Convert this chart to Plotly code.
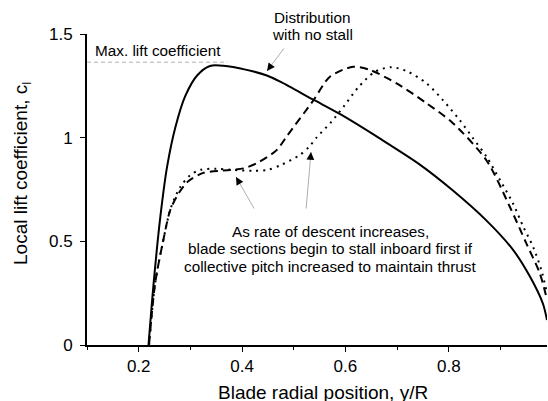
import plotly.graph_objects as go

# Data
no_stall_x = [0.219, 0.229, 0.242, 0.255, 0.271, 0.29, 0.313, 0.338, 0.364, 0.409, 0.448, 0.474,
              0.538, 0.59, 0.667, 0.744, 0.808, 0.873, 0.924, 0.957, 0.982, 0.99]
no_stall_y = [0.0, 0.30, 0.62, 0.86, 1.05, 1.20, 1.30, 1.346, 1.347, 1.327, 1.30, 1.27,
              1.183, 1.113, 0.995, 0.87, 0.745, 0.60, 0.46, 0.33, 0.20, 0.12]

stall1_x = [0.22, 0.232, 0.248, 0.261, 0.277, 0.296, 0.325, 0.377, 0.403, 0.428, 0.467, 0.486,
            0.538, 0.57, 0.615, 0.647, 0.699, 0.757, 0.808, 0.873, 0.918, 0.95, 0.976, 0.99]
stall1_y = [0.0, 0.30, 0.51, 0.65, 0.73, 0.79, 0.83, 0.844, 0.852, 0.876, 0.94, 1.005,
            1.18, 1.294, 1.342, 1.327, 1.262, 1.166, 1.07, 0.89, 0.667, 0.49, 0.346, 0.22]

stall2_x = [0.22, 0.232, 0.248, 0.262, 0.28, 0.30, 0.32, 0.35, 0.38, 0.42, 0.45, 0.477, 0.512,
            0.53, 0.544, 0.573, 0.599, 0.625, 0.657, 0.689, 0.721, 0.757, 0.789, 0.821, 0.847,
            0.873, 0.899, 0.924, 0.944, 0.963, 0.979, 0.99]
stall2_y = [0.0, 0.30, 0.51, 0.66, 0.76, 0.82, 0.845, 0.85, 0.845, 0.84, 0.845, 0.87, 0.917,
            0.957, 1.0, 1.077, 1.158, 1.243, 1.318, 1.34, 1.318, 1.262, 1.18, 1.085, 0.997,
            0.908, 0.796, 0.684, 0.571, 0.474, 0.362, 0.25]

max_cl = 1.364
max_cl_end = 0.372
x_ticks = [0.2, 0.4, 0.6, 0.8]
y_ticks = [0, 0.5, 1, 1.5]
y_ticktext = ["0", "0.5", "1", "1.5"]
x_range = [0.1, 0.99]
y_range = [0, 1.5]

label_max = "Max. lift coefficient"
label_nostall = ["Distribution", "with no stall"]
label_stall = ["As rate of descent increases,",
               "blade sections begin to stall inboard first if",
               "collective pitch increased to maintain thrust"]

FONT = "Arial, Liberation Sans, sans-serif"
W, H = 548, 401
ML, MR, MT, MB = 87, 1, 34, 56
PW, PH = W - ML - MR, H - MT - MB


def px2x(px):
    return x_range[0] + (px - ML) / PW * (x_range[1] - x_range[0])


def px2y(py):
    return y_range[0] + (MT + PH - py) / PH * (y_range[1] - y_range[0])


def ppx(px):
    return (px - ML) / PW


def ppy(py):
    return (MT + PH - py) / PH


TXT = 15.3

fig = go.Figure()
fig.add_trace(go.Scatter(x=no_stall_x, y=no_stall_y, mode="lines",
                         line=dict(color="black", width=2, shape="spline", smoothing=0.8)))
fig.add_trace(go.Scatter(x=stall1_x, y=stall1_y, mode="lines",
                         line=dict(color="black", width=2, dash="8px,5px", shape="spline", smoothing=0.8)))
fig.add_trace(go.Scatter(x=stall2_x, y=stall2_y, mode="lines",
                         line=dict(color="black", width=2, dash="2px,5px", shape="spline", smoothing=0.8)))

fig.add_shape(type="line", x0=x_range[0], x1=max_cl_end, y0=max_cl, y1=max_cl, xref="x", yref="y",
              line=dict(color="#b0b0b0", width=1, dash="4px,3px"))

fig.add_annotation(x=ppx(93), y=ppy(50.6), xref="paper", yref="paper", text=label_max,
                   showarrow=False, xanchor="left", yanchor="middle",
                   font=dict(family=FONT, size=TXT, color="black"))

for i, t in enumerate(label_nostall):
    fig.add_annotation(x=ppx(312), y=ppy(17.9 + 16.7 * i), xref="paper", yref="paper", text=t,
                       showarrow=False, xanchor="center", yanchor="middle",
                       font=dict(family=FONT, size=TXT, color="black"))

for i, t in enumerate(label_stall):
    fig.add_annotation(x=ppx(330), y=ppy(231.3 + 17.5 * i), xref="paper", yref="paper", text=t,
                       showarrow=False, xanchor="center", yanchor="middle",
                       font=dict(family=FONT, size=TXT, color="black"))

# arrows: gray lines + black heads (head point in data units, tail offset in px)
arrows = [((px2x(267), px2y(71)), (18, -24)),
          ((px2x(236), px2y(177)), (19, 33)),
          ((px2x(311), px2y(152)), (-5, 58))]
for (hx, hy), (ax, ay) in arrows:
    fig.add_annotation(x=hx, y=hy, xref="x", yref="y", ax=ax, ay=ay, text="",
                       showarrow=True, arrowhead=0, arrowwidth=0.8, arrowcolor="#999999")
    s = 9.0 / (ax * ax + ay * ay) ** 0.5
    fig.add_annotation(x=hx, y=hy, xref="x", yref="y", ax=ax * s, ay=ay * s, text="",
                       showarrow=True, arrowhead=2, arrowsize=1.3, arrowwidth=1.2, arrowcolor="black")

# axis titles as annotations for exact placement
fig.add_annotation(x=ppx(322.5), y=ppy(392), xref="paper", yref="paper",
                   text="Blade radial position, y/R", showarrow=False,
                   xanchor="center", yanchor="middle", font=dict(family=FONT, size=19, color="black"))
fig.add_annotation(x=ppx(22), y=ppy(174), xref="paper", yref="paper",
                   text="Local lift coefficient, c<sub>l</sub>", showarrow=False, textangle=-90,
                   xanchor="center", yanchor="middle", font=dict(family=FONT, size=19, color="black"))

fig.update_layout(
    width=W, height=H,
    margin=dict(l=ML, r=MR, t=MT, b=MB, autoexpand=False),
    plot_bgcolor="white", paper_bgcolor="white",
    showlegend=False,
    font=dict(family=FONT, color="black"),
)
fig.update_xaxes(range=x_range, tickvals=x_ticks, ticktext=[str(v) for v in x_ticks],
                 showgrid=False, zeroline=False, showline=True, linecolor="black", linewidth=2,
                 ticks="outside", ticklen=5, tickwidth=1, tickcolor="black",
                 minor=dict(dtick=0.1, tick0=0.1, ticks="outside", ticklen=3, tickcolor="black", showgrid=False),
                 tickfont=dict(family=FONT, size=17, color="black"), automargin=False)
fig.update_yaxes(range=y_range, tickvals=y_ticks, ticktext=y_ticktext,
                 showgrid=False, zeroline=False, showline=True, linecolor="black", linewidth=2,
                 ticks="outside", ticklen=5, tickwidth=1, tickcolor="black", ticklabelstandoff=4,
                 tickfont=dict(family=FONT, size=17, color="black"), automargin=False)

fig.write_html("out.html", config={"displayModeBar": False},
               post_script="document.body.style.margin='0';document.body.style.overflow='hidden';")
